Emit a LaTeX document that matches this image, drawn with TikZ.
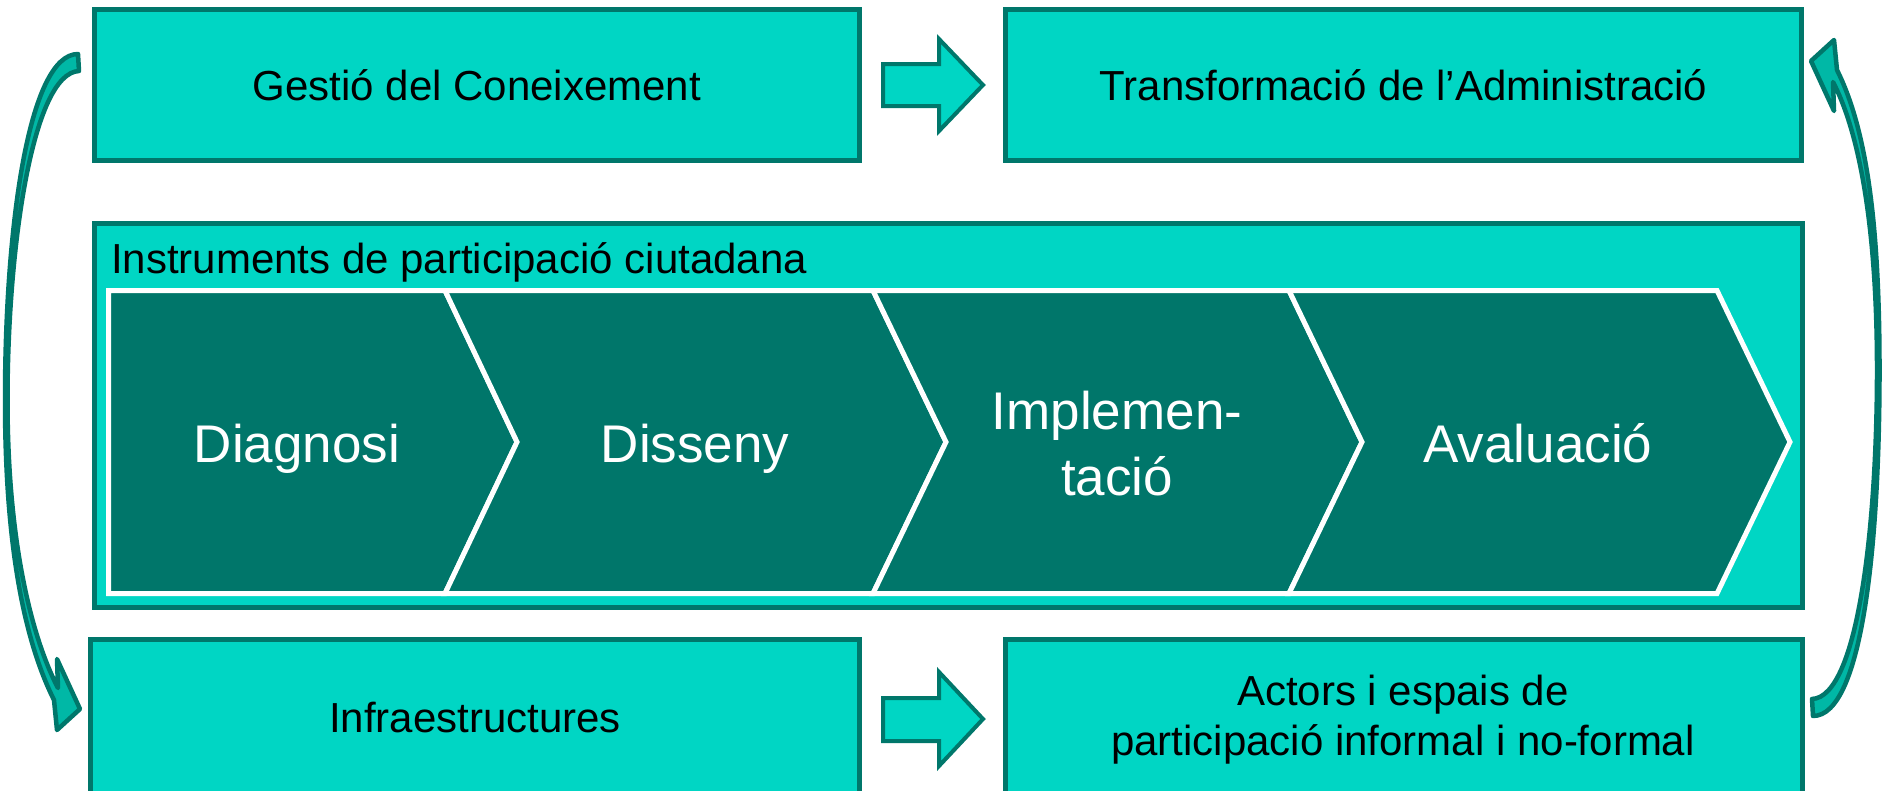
\documentclass[tikz,border=0pt]{standalone}
\usepackage{fontspec}
\setmainfont{Liberation Sans}
\definecolor{turq}{HTML}{00D6C4}
\definecolor{dteal}{HTML}{00776B}
\definecolor{cteal}{HTML}{00766A}
\definecolor{mteal}{HTML}{00B8A6}
\begin{document}
\begin{tikzpicture}[x=1pt,y=-1pt,
  box/.style={draw=dteal, line width=5pt, fill=turq, inner sep=0pt,
    font=\fontsize{42}{50}\selectfont, text=black},
  onel/.style={text height=30.1pt, text depth=0pt},
  chev/.style={draw=white, line width=5pt, fill=cteal},
  chevtext/.style={text=white, font=\fontsize{53}{66}\selectfont, inner sep=0pt, align=center},
  blockarrow/.style={draw=dteal, line width=4pt, fill=turq, line join=miter},
  curvearrow/.style={draw=dteal, line width=4.5pt, fill=mteal, line join=round}]
\useasboundingbox (0,0) rectangle (1884,790);
\clip (0,0) rectangle (1884,790);

% top boxes
\node[box, onel, minimum width=765pt, minimum height=151pt] (gc) at (477,85) {Gestió del Coneixement};
\node[box, onel, minimum width=796pt, minimum height=151pt] (ta) at (1403.5,85) {Transformació de l’Administració};

% middle box
\node[box, minimum width=1708pt, minimum height=384pt] (ip) at (948.5,415.5) {};
\node[anchor=base west, inner sep=0pt, font=\fontsize{42}{50}\selectfont] (ipt) at (111,273) {Instruments de participació ciutadana};

% chevrons
\draw[chev] (108.5,290.5) -- (445,290.5) -- (517,442) -- (445,593.5) -- (108.5,593.5) -- cycle;
\draw[chev] (445,290.5) -- (873,290.5) -- (946,442) -- (873,593.5) -- (445,593.5) -- (517,442) -- cycle;
\draw[chev] (873,290.5) -- (1289,290.5) -- (1362,442) -- (1289,593.5) -- (873,593.5) -- (946,442) -- cycle;
\draw[chev] (1289,290.5) -- (1717,290.5) -- (1790,442) -- (1717,593.5) -- (1289,593.5) -- (1362,442) -- cycle;
\node[chevtext, text height=38pt, text depth=0pt] (c1) at (297,443) {Diagnosi};
\node[chevtext, text height=38pt, text depth=0pt] (c2) at (695,443) {Disseny};
\node[chevtext] (c3) at (1117,444) {Implemen-\\tació};
\node[chevtext, text height=38pt, text depth=0pt] (c4) at (1538,443) {Avaluació};

% bottom boxes
\node[box, onel, minimum width=769pt, minimum height=155.5pt] (inf) at (475,717.25) {Infraestructures};
\node[box, align=center, minimum width=797pt, minimum height=155.5pt] (act) at (1404,717.25) {};
\node[align=center, inner sep=0pt, font=\fontsize{42}{50}\selectfont] (actt) at (1403,720) {Actors i espais de\\participació informal i no-formal};

% block arrows
\draw[blockarrow] (883,64) -- (939,64) -- (939,39) -- (983,85) -- (939,131) -- (939,106) -- (883,106) -- cycle;
\draw[blockarrow] (883,698) -- (939,698) -- (939,672) -- (983,719) -- (939,766) -- (939,741) -- (883,741) -- cycle;

% curved arrow left (from Gestio down to Infraestructures)
\draw[curvearrow] (78,54) .. controls (28,54) and (5,230) .. (5,400)
  .. controls (5,545) and (24,640) .. (54,700) -- (57,730) -- (80,709) -- (57,659) -- (58,688)
  .. controls (31,636) and (7.5,540) .. (7.5,400)
  .. controls (7.5,250) and (32,73) .. (79,71) -- cycle;

% curved arrow right (from Actors up to Transformacio)
\draw[curvearrow] (1813,716) .. controls (1863,716) and (1879.5,540) .. (1879.5,370)
  .. controls (1879.5,225) and (1867,130) .. (1837,70) -- (1834,40) -- (1811,61) -- (1834,111) -- (1833,82)
  .. controls (1860,134) and (1877,230) .. (1877,370)
  .. controls (1877,520) and (1859,697) .. (1812,699) -- cycle;
\end{tikzpicture}
\end{document}
